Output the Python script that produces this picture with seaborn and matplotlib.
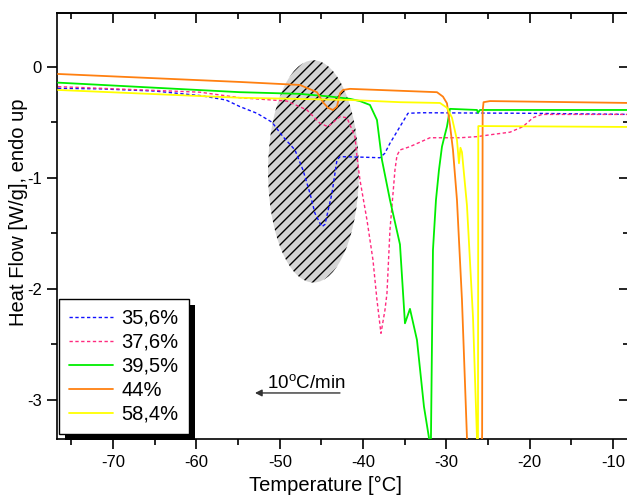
import numpy as np
import matplotlib
matplotlib.use("Agg")
import matplotlib.pyplot as plt
from matplotlib.patches import Ellipse, Rectangle
from matplotlib.collections import LineCollection
from matplotlib.transforms import IdentityTransform
from matplotlib.ticker import MultipleLocator
import seaborn as sns

# DSC cooling curves (heat flow vs temperature), one pair of arrays per sample
labels = ["35,6%", "37,6%", "39,5%", "44%", "58,4%"]

temp_356 = [-76.62, -71.58, -64.98, -59.58, -56.46, -54.78, -52.74, -50.94, -49.62,
            -48.18, -47.22, -46.38, -45.78, -45.18, -44.94, -44.58, -43.74, -43.14,
            -42.78, -40.0, -37.98, -37.4, -36.78, -35.58, -34.62, -33.0, -20.0, -8.0]
hf_356 = [-0.195, -0.20, -0.22, -0.26, -0.30, -0.36, -0.42, -0.50, -0.63,
          -0.75, -0.93, -1.14, -1.32, -1.41, -1.44, -1.42, -1.14, -0.84,
          -0.81, -0.815, -0.82, -0.78, -0.69, -0.54, -0.42, -0.415, -0.42, -0.43]

temp_376 = [-76.62, -59.58, -54.78, -49.14, -46.74, -45.18, -44.22, -42.78, -41.94,
            -40.98, -40.74, -40.38, -39.54, -38.82, -38.34, -37.86, -37.38, -37.14,
            -36.78, -36.18, -35.94, -35.58, -34.38, -33.18, -31.98, -28.38, -26.34,
            -24.42, -22.38, -20.82, -19.62, -18.54, -8.0]
hf_376 = [-0.18, -0.23, -0.28, -0.31, -0.39, -0.51, -0.54, -0.45, -0.46,
          -0.63, -0.81, -1.02, -1.38, -1.74, -2.10, -2.40, -2.19, -2.04,
          -1.47, -0.93, -0.80, -0.75, -0.72, -0.68, -0.64, -0.64, -0.63,
          -0.61, -0.59, -0.54, -0.46, -0.43, -0.43]

temp_395 = [-76.62, -54.78, -47.58, -43.86, -41.58, -40.38, -39.18, -38.34, -37.74,
            -36.78, -35.58, -34.98, -34.38, -33.54, -32.70, -32.10, -31.98, -31.86,
            -31.62, -31.26, -30.90, -30.54, -30.18, -29.94, -29.58, -26.34, -26.22,
            -25.98, -8.0]
hf_395 = [-0.144, -0.23, -0.245, -0.27, -0.29, -0.31, -0.345, -0.48, -0.84,
          -1.20, -1.60, -2.31, -2.18, -2.46, -3.06, -3.34, -3.45, -3.34,
          -1.65, -1.20, -0.93, -0.72, -0.61, -0.54, -0.38, -0.39, -0.415,
          -0.39, -0.39]

temp_44 = [-76.62, -54.78, -47.58, -45.54, -44.82, -44.22, -43.62, -43.14, -42.78,
           -42.42, -41.58, -31.14, -30.42, -29.94, -29.58, -29.22, -28.74, -28.14,
           -27.54, -27.30, -26.60, -25.80, -25.72, -25.66, -25.55, -24.78, -8.0]
hf_44 = [-0.066, -0.138, -0.165, -0.23, -0.32, -0.37, -0.39, -0.36, -0.24,
         -0.21, -0.20, -0.23, -0.27, -0.33, -0.525, -0.75, -1.20, -2.10,
         -3.34, -3.63, -4.30, -3.60, -3.30, -0.40, -0.32, -0.31, -0.327]

temp_584 = [-76.62, -54.78, -41.58, -35.58, -30.78, -29.94, -29.34, -28.74, -28.50,
            -28.32, -28.14, -27.54, -26.82, -26.34, -26.28, -26.22, -26.18, -25.38,
            -8.0]
hf_584 = [-0.21, -0.28, -0.30, -0.32, -0.327, -0.37, -0.46, -0.66, -0.87,
          -0.73, -0.77, -1.25, -2.25, -3.34, -3.63, -3.36, -0.535, -0.535,
          -0.543]

sns.set_style("ticks")
plt.rcParams["font.family"] = ["Liberation Sans", "DejaVu Sans"]
plt.rcParams["mathtext.fontset"] = "custom"
plt.rcParams["mathtext.rm"] = "Liberation Sans"
plt.rcParams["axes.unicode_minus"] = False
for key in ["axes.edgecolor", "xtick.color", "ytick.color", "text.color", "axes.labelcolor"]:
    plt.rcParams[key] = "black"

fig = plt.figure(figsize=(6.27, 4.99), dpi=100)
ax = fig.add_axes([57.3 / 627, 59.7 / 499, (629 - 57.3) / 627, 426 / 499])

styles = [
    ("#1010ff", (0, (2.4, 1.8)), 1.0),
    ("#ff2a7f", (0, (2.4, 1.8)), 1.0),
    ("#00ee00", "-", 1.3),
    ("#ff8010", "-", 1.3),
    ("#ffff00", "-", 1.3),
]
temps = [temp_356, temp_376, temp_395, temp_44, temp_584]
flows = [hf_356, hf_376, hf_395, hf_44, hf_584]

for lab, t, q, (col, ls, lw) in zip(labels, temps, flows, styles):
    sns.lineplot(x=t, y=q, ax=ax, color=col, linestyle=ls, linewidth=lw,
                 sort=False, estimator=None, label=lab, zorder=3)
handles = ax.get_lines()[:5]

ax.set_xlim(-76.7, -76.7 + (629 - 57.3) * 0.12)
ax.set_ylim(-3.354, 0.48)

# highlighted region around the first transitions: grey ellipse with diagonal hatching
ell_c, ell_w, ell_h = (-45.96, -0.943), 10.9, 2.0
ell = Ellipse(ell_c, ell_w, ell_h, facecolor="#d4d4d4", edgecolor="none", zorder=1)
ax.add_patch(ell)
slope = 0.075          # one data-unit step in x moves the line this much in y (45 deg on screen)
step = 1.2             # horizontal spacing of hatch lines
segs = []
for k in np.arange(-17, 18):
    x0 = ell_c[0] + k * step
    segs.append([(x0 - 15, ell_c[1] - 15 * slope), (x0 + 15, ell_c[1] + 15 * slope)])
hatch = LineCollection(segs, colors="black", linewidths=1.0, zorder=1.5)
ax.add_collection(hatch)
hatch.set_clip_path(ell)

ax.xaxis.set_major_locator(MultipleLocator(10))
ax.xaxis.set_minor_locator(MultipleLocator(5))
ax.yaxis.set_major_locator(MultipleLocator(1))
ax.yaxis.set_minor_locator(MultipleLocator(0.5))
ax.tick_params(which="major", direction="out", length=7, width=1.2, labelsize=12, pad=4)
ax.tick_params(which="minor", direction="out", length=4, width=1.2)
ax.tick_params(top=False, right=False)
for sp in ax.spines.values():
    sp.set_linewidth(1.2)
    sp.set_color("black")

top = ax.secondary_xaxis("top")
top.xaxis.set_major_locator(MultipleLocator(10))
top.xaxis.set_minor_locator(MultipleLocator(5))
top.tick_params(which="both", direction="in", labeltop=False, width=1.2)
top.tick_params(which="major", length=7)
top.tick_params(which="minor", length=4)
top.spines["top"].set_linewidth(1.2)

right = ax.secondary_yaxis("right")
right.yaxis.set_major_locator(MultipleLocator(1))
right.yaxis.set_minor_locator(MultipleLocator(0.5))
right.tick_params(which="both", direction="in", labelright=False, width=1.2)
right.tick_params(which="major", length=7)
right.tick_params(which="minor", length=4)

ax.set_xlabel("Temperature [°C]", fontsize=14.5)
ax.set_ylabel("Heat Flow [W/g], endo up", fontsize=14.5)
ax.xaxis.set_label_coords(0.469, -0.086)
ax.yaxis.set_label_coords(-0.052, 0.532)

# heating-rate note with direction arrow
ax.annotate("", xy=(-52.98, -2.937), xytext=(-42.78, -2.937),
            arrowprops=dict(arrowstyle="-|>", color="#333333", lw=1.0,
                            mutation_scale=10, shrinkA=0, shrinkB=0))
ax.text(-51.5, -2.905, r"10$^{\mathrm{o}}$C/min", fontsize=13.5, ha="left", va="baseline")

leg = ax.legend(handles, labels, loc="lower left", bbox_to_anchor=(0.003, 0.0124),
                bbox_transform=ax.transAxes, borderaxespad=0, frameon=True,
                fancybox=False, framealpha=1, edgecolor="black", fontsize=14.5,
                handlelength=2.2, handletextpad=0.4, labelspacing=0.25, borderpad=0.5)
leg.get_frame().set_linewidth(1.0)
leg.set_zorder(6)

fig.canvas.draw()
bb = leg.get_window_extent()
ax.add_patch(Rectangle((bb.x0 + 6, bb.y0 - 6), bb.width, bb.height,
                       transform=IdentityTransform(), facecolor="black",
                       edgecolor="none", clip_on=False, zorder=5.5))

fig.savefig("out.png", dpi=100)
